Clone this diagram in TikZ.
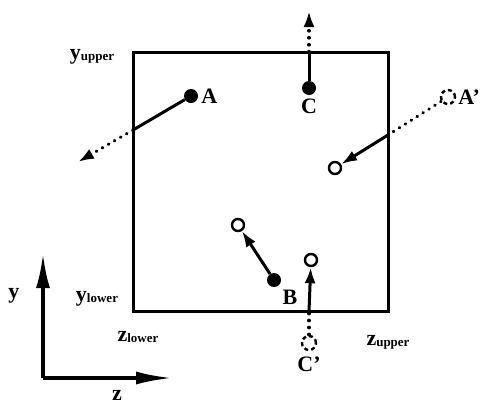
\documentclass[tikz,border=0pt]{standalone}
\usepackage{fontspec}
\setmainfont{Liberation Serif}
\usetikzlibrary{positioning,arrows.meta}

\begin{document}
\begin{tikzpicture}[
    x=1pt, y=-1pt,
    fdot/.style={
        circle,
        fill=black,
        minimum size=14pt,
        inner sep=0pt
    },
    odot/.style={
        circle,
        draw=black,
        line width=2.4pt,
        fill=white,
        minimum size=12pt,
        inner sep=0pt
    },
    ghost/.style={
        circle,
        draw=black,
        line width=2.4pt,
        dash pattern=on 4pt off 3pt,
        minimum size=14pt,
        inner sep=0pt
    },
    lbl/.style={
        font=\fontsize{22}{24}\selectfont\bfseries,
        inner sep=1pt
    },
    sub/.style={
        font=\fontsize{22}{24}\selectfont\bfseries,
        inner sep=1pt
    },
    mv/.style={
        line width=3pt
    },
    arr/.style={
        -{Latex[length=16pt,width=11pt]},
        line width=3pt
    },
    dots/.style={
        line width=3.2pt,
        line cap=round,
        dash pattern=on 0.5pt off 6.5pt
    },
    darr/.style={
        -{Latex[length=16pt,width=11pt]},
        line width=3.2pt,
        line cap=round,
        dash pattern=on 0.5pt off 6.5pt
    }
]
\useasboundingbox (0,0) rectangle (481,408);

% ============================================================
% DOMAIN
% ============================================================

\draw[line width=3pt] (133,52) rectangle (388,311);

\node[sub] (yup) at (92,57)
{y{\fontsize{13}{14}\selectfont\raisebox{-0.15ex}{upper}}};
\node[sub] (ylo) at (97,299)
{y{\fontsize{13}{14}\selectfont\raisebox{-0.15ex}{lower}}};
\node[sub] (zlo) at (138,337)
{z{\fontsize{13}{14}\selectfont\raisebox{-0.15ex}{lower}}};
\node[sub] (zup) at (388,342)
{z{\fontsize{13}{14}\selectfont\raisebox{-0.15ex}{upper}}};

% ============================================================
% PARTICLES
% ============================================================

% A leaves through the lower z side
\node[fdot] (A) at (191,96) {};
\node[lbl, right=2pt of A] (Alab) {A};
\coordinate (Aout) at (133,130);
\coordinate (Aend) at (78,162);
\draw[mv] (A) -- (Aout);
\draw[darr] (Aout) -- (Aend);

% A' comes back through the upper z side
\node[ghost] (Ap) at (448,97) {};
\node[lbl, right=1pt of Ap] (Aplab) {A'};
\node[odot] (Anew) at (335,168) {};
\coordinate (Ain) at (388,135);
\draw[dots] (Ap) -- (Ain);
\draw[arr] (Ain) -- (Anew);

% C leaves through y upper
\node[fdot] (C) at (309,88) {};
\node[lbl, below=3pt of C] (Clab) {C};
\coordinate (Cout) at (309,52);
\coordinate (Cend) at (309,11);
\draw[mv] (C) -- (Cout);
\draw[darr] (Cout) -- (Cend);

% C' comes back through y lower
\node[ghost] (Cp) at (309,343) {};
\node[lbl, below=4pt of Cp] (Cplab) {C'};
\node[odot] (Cnew) at (311,260) {};
\coordinate (Cin) at (309,311);
\draw[dots] (Cp) -- (Cin);
\draw[arr] (Cin) -- (Cnew);

% B stays inside
\node[fdot] (B) at (274,280) {};
\node[lbl] (Blab) at (290,297) {B};
\node[odot] (Bnew) at (238,225) {};
\draw[arr] (B) -- (Bnew);

% ============================================================
% AXES
% ============================================================

\coordinate (O) at (43,378);
\coordinate (ytip) at (43,254);
\coordinate (ztip) at (172,378);
\draw[-{Latex[length=34pt,width=14pt]}, line width=3.4pt] (O) -- (ytip);
\draw[-{Latex[length=36pt,width=13pt]}, line width=3.4pt] (O) -- (ztip);
\node[lbl] (ylab) at (14,296) {y};
\node[lbl] (zlab) at (117,395) {z};

\end{tikzpicture}
\end{document}
